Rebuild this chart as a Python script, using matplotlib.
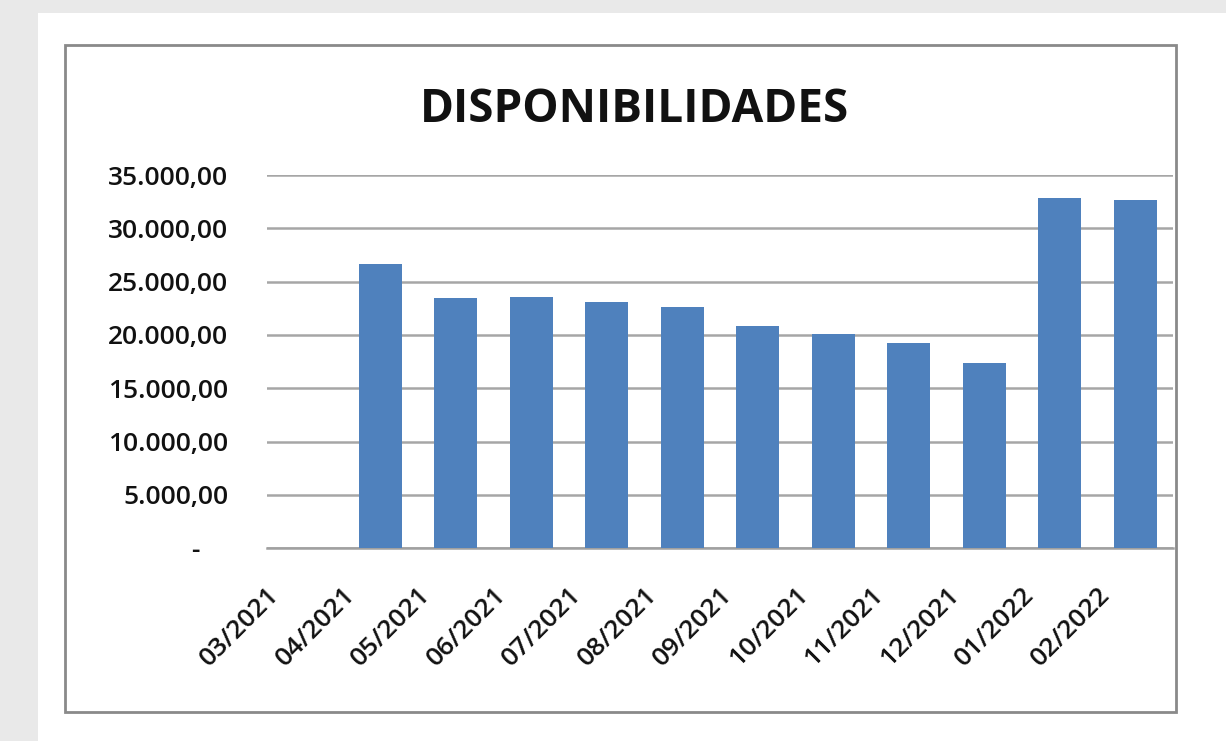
import matplotlib
matplotlib.use("Agg")
import matplotlib.pyplot as plt
from matplotlib.patches import Rectangle
from matplotlib.ticker import FuncFormatter, MultipleLocator
import matplotlib.transforms as mtransforms

categories = ["03/2021", "04/2021", "05/2021", "06/2021", "07/2021", "08/2021",
              "09/2021", "10/2021", "11/2021", "12/2021", "01/2022", "02/2022"]
values = [0, 26700, 23450, 23580, 23100, 22640, 20880, 20100, 19290, 17350, 32830, 32680]
title = "DISPONIBILIDADES"

W, H = 1226, 741
fig = plt.figure(figsize=(W / 100, H / 100), dpi=100)
fig.patch.set_facecolor("#e9e9e9")

# white page area
fig.patches.append(Rectangle((38 / W, 0), 1 - 38 / W, 1 - 13 / H, transform=fig.transFigure,
                             facecolor="white", edgecolor="none", zorder=0))
# chart border
fig.patches.append(Rectangle((65 / W, 1 - 712 / H), (1176 - 65) / W, (712 - 45) / H,
                             transform=fig.transFigure, facecolor="white",
                             edgecolor="#8a8a8a", linewidth=2, zorder=0.5))

left, right, top, bottom = 267, 1173, 175, 548.3
ax = fig.add_axes([left / W, 1 - bottom / H, (right - left) / W, (bottom - top) / H])
ax.set_zorder(2)
ax.set_facecolor("none")

x = list(range(len(categories)))
ax.bar(x, values, width=0.57, color="#4f81bd", zorder=3)
ax.set_xlim(-0.5, len(categories) - 0.5)
ax.set_ylim(0, 35000)
ax.yaxis.set_major_locator(MultipleLocator(5000))

def fmt(v, pos):
    if v == 0:
        return "-    "
    s = f"{v:,.2f}"
    return s.replace(",", "X").replace(".", ",").replace("X", ".")

ax.yaxis.set_major_formatter(FuncFormatter(fmt))
ax.grid(axis="y", color="#a6a6a6", linewidth=1.8, zorder=1)
for s in ["top", "right", "left"]:
    ax.spines[s].set_visible(False)
ax.spines["bottom"].set_color("#a0a0a0")
ax.spines["bottom"].set_linewidth(1.8)
ax.tick_params(axis="both", length=0)
ax.tick_params(axis="y", pad=28, labelsize=19, labelcolor="#111111")
for lbl in ax.get_yticklabels():
    lbl.set_fontfamily("Open Sans")
    lbl.set_fontweight("semibold")

ax.set_xticks(x)
ax.set_xticklabels(categories, rotation=45, ha="right", va="top", rotation_mode="anchor",
                   fontfamily="Open Sans", fontsize=19, color="#111111",
                   fontweight="semibold")
offset = mtransforms.ScaledTranslation(-0.38, -0.29, fig.dpi_scale_trans)
for lbl in ax.get_xticklabels():
    lbl.set_transform(lbl.get_transform() + offset)

fig.text(634 / W, 1 - 110 / H, title, ha="center", va="center", fontsize=33,
         fontweight="bold", fontfamily="Open Sans", color="#111111", zorder=3)

fig.savefig("out.png", dpi=100)
